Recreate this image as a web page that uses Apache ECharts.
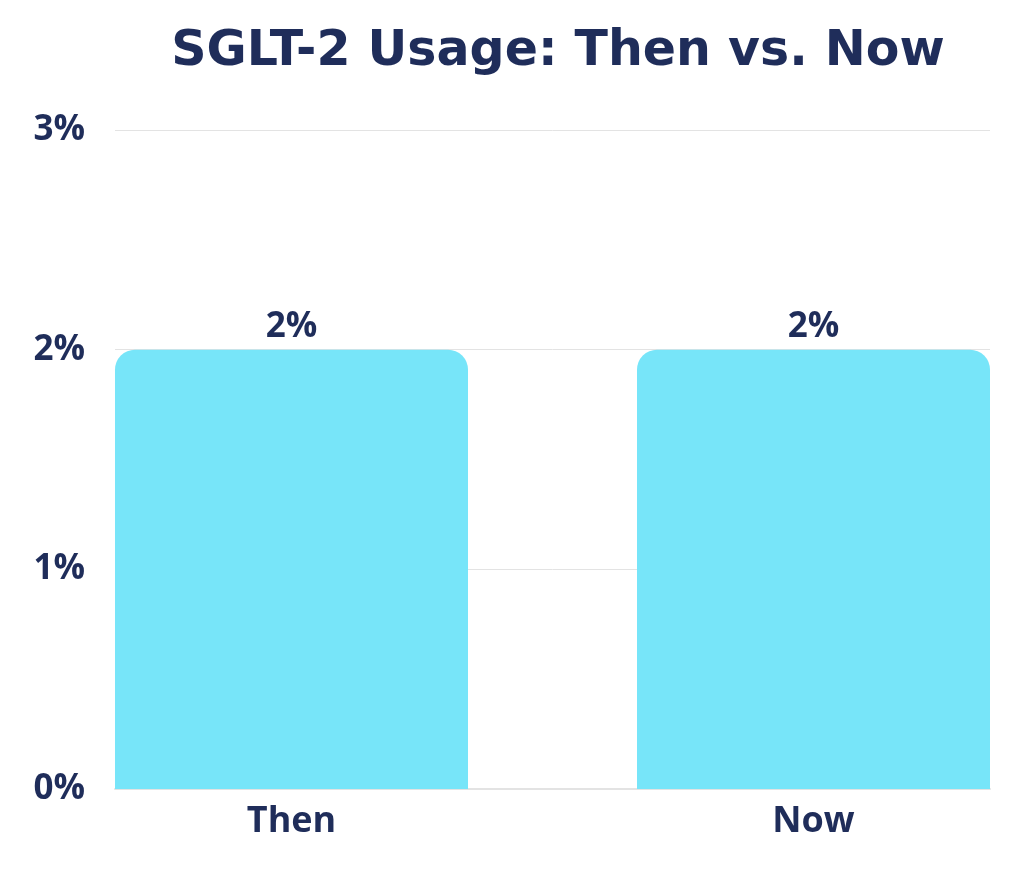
<!DOCTYPE html>
<html>
<head>
<meta charset="utf-8">
<script src="https://cdn.jsdelivr.net/npm/echarts@6/dist/echarts.min.js"></script>
<style>
html,body{margin:0;padding:0;background:#fff;}
#chart{width:1024px;height:869px;}
</style>
</head>
<body>
<div id="chart"></div>
<script>
const titleText = 'SGLT-2 Usage: Then vs. Now';
const categories = ['Then', 'Now'];
const usageValues = [2, 2];
const yTickLabels = ['0%', '1%', '2%', '3%'];

const navy = '#1f2d5a';
const font = 'Open Sans';
const chart = echarts.init(document.getElementById('chart'));
chart.setOption({
  backgroundColor: '#ffffff',
  animation: false,
  title: {
    text: titleText,
    left: 553,
    textAlign: 'center',
    top: 23,
    textStyle: { color: navy, fontFamily: 'DejaVu Sans', fontWeight: 'bold', fontSize: 49 }
  },
  grid: { left: 115, right: 34, top: 130, bottom: 80 },
  xAxis: {
    type: 'value',
    min: -0.33812,
    max: 1.33812,
    splitLine: { show: false },
    axisTick: { show: false },
    axisLine: { show: true, lineStyle: { color: '#e3e3e3', width: 2 } },
    axisLabel: {
      customValues: categories.map((c, i) => i),
      formatter: v => categories[Math.round(v)],
      color: navy, fontFamily: font, fontWeight: 700, fontSize: 36, margin: 15
    }
  },
  yAxis: {
    type: 'value',
    min: 0,
    max: yTickLabels.length - 1,
    interval: 1,
    axisLine: { show: false },
    axisTick: { show: false },
    splitLine: { lineStyle: { color: '#e3e3e3', width: 1 } },
    axisLabel: {
      formatter: v => yTickLabels[Math.round(v)],
      color: navy, fontFamily: font, fontWeight: 700, fontSize: 35, margin: 30
    }
  },
  series: [{
    type: 'bar',
    data: categories.map((c, i) => [i, usageValues[i]]),
    barWidth: 353,
    itemStyle: { color: '#77e5f9', borderRadius: [20, 20, 0, 0] },
    label: {
      show: true,
      position: 'top',
      distance: 5,
      formatter: p => p.value[1] + '%',
      color: navy, fontFamily: font, fontWeight: 700, fontSize: 35
    }
  }]
});
</script>
</body>
</html>
